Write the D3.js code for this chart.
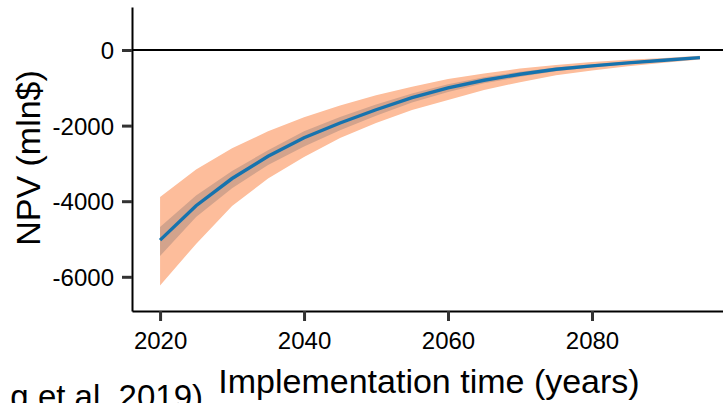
<!DOCTYPE html>
<html>
<head>
<meta charset="utf-8">
<script src="https://cdn.jsdelivr.net/npm/d3@7"></script>
<style>
  html, body { margin: 0; padding: 0; background: #fff; }
  svg { display: block; font-family: "Liberation Sans", Arial, sans-serif; }
</style>
</head>
<body>
<svg id="chart" width="723" height="403"></svg>
<script>
// Implementation year
const years = [2020, 2025, 2030, 2035, 2040, 2045, 2050, 2055, 2060, 2065, 2070, 2075, 2080, 2085, 2090, 2095];
// Mean NPV (mln$)
const npvMean = [-5030, -4120, -3400, -2810, -2320, -1930, -1580, -1260, -1000, -800, -640, -510, -420, -340, -270, -200];
// Outer uncertainty range
const outerHigh = [-3890, -3160, -2600, -2150, -1780, -1470, -1200, -970, -770, -620, -490, -395, -320, -260, -210, -150];
const outerLow  = [-6230, -5130, -4130, -3400, -2830, -2330, -1930, -1590, -1320, -1060, -850, -670, -540, -430, -340, -250];
// Inner uncertainty range
const innerHigh = [-4680, -3850, -3200, -2650, -2150, -1770, -1440, -1150, -905, -720, -575, -460, -375, -305, -240, -175];
const innerLow  = [-5450, -4420, -3660, -3040, -2550, -2120, -1740, -1390, -1110, -880, -710, -565, -465, -375, -300, -225];
// Axis ticks
const xTicks = [2020, 2040, 2060, 2080];
const yTicks = [0, -2000, -4000, -6000];

const rows = years.map((yr, i) => ({
  year: yr, mean: npvMean[i],
  oHi: outerHigh[i], oLo: outerLow[i],
  iHi: innerHigh[i], iLo: innerLow[i]
}));

const svg = d3.select("#chart");
const plotLeft = 132, plotRight = 723, plotTop = 7, plotBottom = 311;

const x = d3.scaleLinear().domain([2016.1, 2098.2]).range([plotLeft, plotRight]);
const y = d3.scaleLinear().domain([-6905, 1138]).range([plotBottom, plotTop]);

// Bands
svg.append("path")
  .datum(rows)
  .attr("fill", "#FDBD9B")
  .attr("d", d3.area().x(d => x(d.year)).y0(d => y(d.oLo)).y1(d => y(d.oHi)));

svg.append("path")
  .datum(rows)
  .attr("fill", "#D3A38C")
  .attr("d", d3.area().x(d => x(d.year)).y0(d => y(d.iLo)).y1(d => y(d.iHi)));

// Mean line
svg.append("path")
  .datum(rows)
  .attr("fill", "none")
  .attr("stroke", "#1673AE")
  .attr("stroke-width", 3.4)
  .attr("d", d3.line().x(d => x(d.year)).y(d => y(d.mean)));

// Zero reference line
svg.append("line")
  .attr("x1", plotLeft).attr("x2", plotRight)
  .attr("y1", y(0)).attr("y2", y(0))
  .attr("stroke", "#000").attr("stroke-width", 2);

// Axes
const xAxis = svg.append("g")
  .attr("transform", `translate(0,${plotBottom})`)
  .call(d3.axisBottom(x).tickValues(xTicks).tickFormat(d3.format("d")).tickSize(10).tickSizeOuter(0).tickPadding(11));

const yAxis = svg.append("g")
  .attr("transform", `translate(${plotLeft},0)`)
  .call(d3.axisLeft(y).tickValues(yTicks).tickFormat(d => d).tickSize(10).tickSizeOuter(0).tickPadding(8));

[xAxis, yAxis].forEach(g => {
  g.select(".domain").attr("stroke", "#000").attr("stroke-width", 2);
  g.selectAll(".tick line").attr("stroke", "#333").attr("stroke-width", 3);
  g.selectAll(".tick text")
    .attr("fill", "#000")
    .style("font-size", "24px")
    .style("font-family", "'Liberation Sans', Arial, sans-serif");
});
yAxis.selectAll(".tick text").attr("dy", "0.35em");

// Axis titles
svg.append("text")
  .attr("x", 429).attr("y", 393)
  .attr("text-anchor", "middle")
  .style("font-size", "34px")
  .text("Implementation time (years)");

svg.append("text")
  .attr("transform", "translate(40,158) rotate(-90)")
  .attr("text-anchor", "middle")
  .style("font-size", "34px")
  .text("NPV (mln$)");

// Citation fragment at lower left
svg.append("text")
  .attr("x", 203).attr("y", 408)
  .attr("text-anchor", "end")
  .style("font-size", "33px")
  .text("g et al. 2019)");
</script>
</body>
</html>
